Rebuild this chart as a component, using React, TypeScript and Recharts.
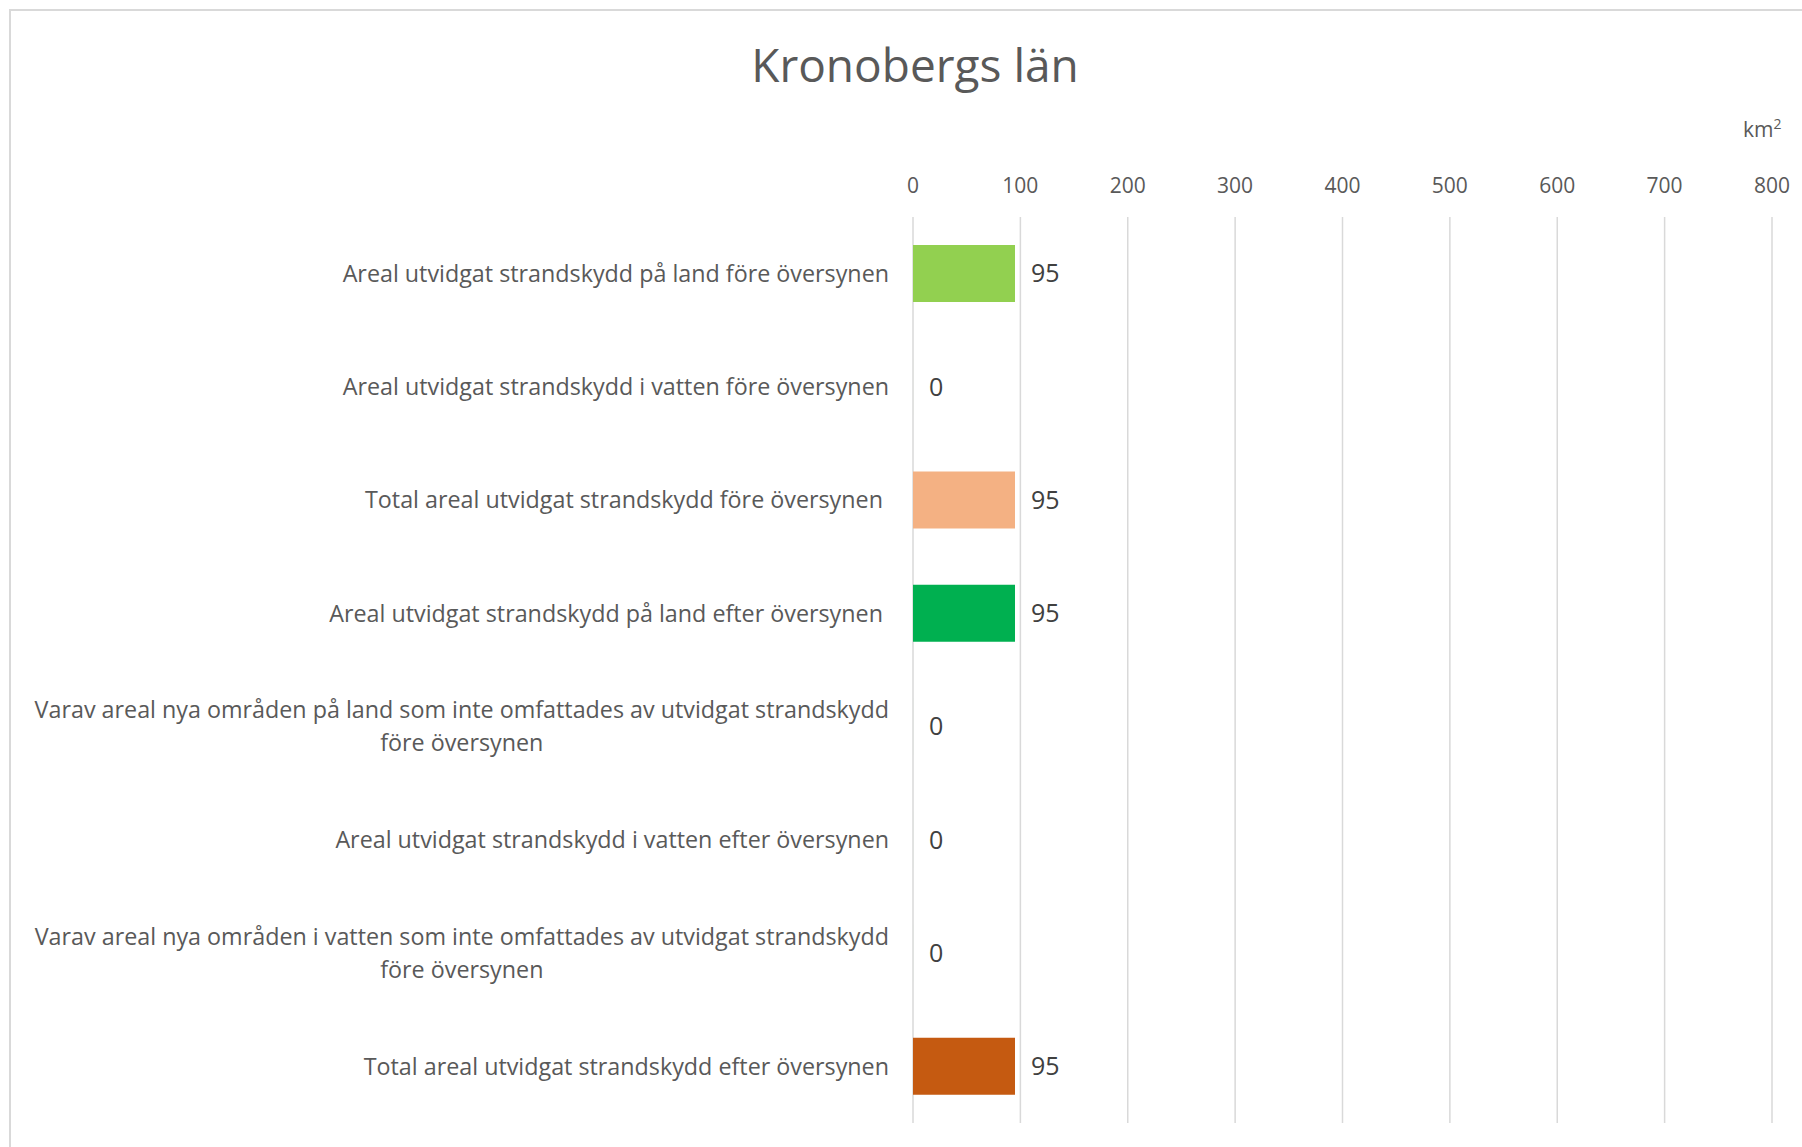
import { BarChart, Bar, XAxis, YAxis, CartesianGrid, Cell, LabelList } from 'recharts'

const KATEGORIER = [
  'Areal utvidgat strandskydd på land före översynen',
  'Areal utvidgat strandskydd i vatten före översynen',
  'Total areal utvidgat strandskydd före översynen ',
  'Areal utvidgat strandskydd på land efter översynen ',
  'Varav areal nya områden på land som inte omfattades av utvidgat strandskydd\nföre översynen',
  'Areal utvidgat strandskydd i vatten efter översynen',
  'Varav areal nya områden i vatten som inte omfattades av utvidgat strandskydd\nföre översynen',
  'Total areal utvidgat strandskydd efter översynen',
]
const VARDEN = [95, 0, 95, 95, 0, 0, 0, 95]
const FARGER = ['#92D050', '#92D050', '#F4B183', '#00B050', '#00B050', '#00B050', '#00B050', '#C55A11']
const TICKS = [0, 100, 200, 300, 400, 500, 600, 700, 800]

const FONT = '"Open Sans", sans-serif'
const TEXT = '#595959'
const LABEL_SIZE = 23.3

const data = KATEGORIER.map((kategori, i) => ({ kategori, varde: VARDEN[i] }))

let ctx: CanvasRenderingContext2D | null = null
function textWidth(s: string): number {
  if (!ctx) ctx = document.createElement('canvas').getContext('2d')
  if (!ctx) return s.length * 11
  ctx.font = `${LABEL_SIZE}px ${FONT}`
  return ctx.measureText(s).width
}

function KategoriTick({ x, y, payload }: any) {
  const lines = String(payload.value).split('\n')
  const right = x - 24
  if (lines.length === 1) {
    return (
      <text x={right} y={y} dy="0.35em" textAnchor="end" fill={TEXT} fontSize={LABEL_SIZE}
        fontFamily={FONT} style={{ whiteSpace: 'pre' }}>
        {lines[0]}
      </text>
    )
  }
  const cx = right - textWidth(lines[0]) / 2
  return (
    <text textAnchor="middle" fill={TEXT} fontSize={LABEL_SIZE} fontFamily={FONT}>
      {lines.map((l, i) => (
        <tspan key={i} x={cx} y={y + (i - (lines.length - 1) / 2) * 33} dy="0.35em">{l}</tspan>
      ))}
    </text>
  )
}

function VardeTick({ x, y, payload }: any) {
  return (
    <text x={x} y={y - 31} dy="0.35em" textAnchor="middle" fill={TEXT} fontSize={21} fontFamily={FONT}>
      {payload.value}
    </text>
  )
}

function VardeEtikett({ x, y, width, height, value }: any) {
  return (
    <text x={x + width + 16} y={y + height / 2} dy="0.35em" textAnchor="start" fill="#404040"
      fontSize={25} fontFamily={FONT}>
      {value}
    </text>
  )
}

export default function App() {
  return (
    <div style={{ position: 'absolute', left: 0, top: 0, width: 1802, height: 1147, overflow: 'hidden', background: '#fff' }}>
      <div style={{
        position: 'absolute', left: 9, top: 9, width: 1850, height: 1200,
        border: '2px solid #d9d9d9', boxSizing: 'border-box',
      }} />
      <div style={{
        position: 'absolute', left: 0, width: 1830, top: 34, textAlign: 'center',
        fontFamily: FONT, fontSize: 46, color: TEXT, lineHeight: '60px',
      }}>
        Kronobergs län
      </div>
      <div style={{
        position: 'absolute', left: 1743, top: 114, fontFamily: FONT, fontSize: 21, color: TEXT,
      }}>
        km<sup style={{ fontSize: 14 }}>2</sup>
      </div>
      <BarChart
        width={1802}
        height={1147}
        data={data}
        layout="vertical"
        margin={{ top: 160, right: 30, bottom: 24, left: 0 }}
        style={{ position: 'absolute', left: 0, top: 0 }}
      >
        <CartesianGrid horizontal={false} stroke="#d9d9d9" strokeWidth={1.5} />
        <XAxis
          type="number"
          orientation="top"
          domain={[0, 800]}
          ticks={TICKS}
          axisLine={false}
          tickLine={false}
          tickSize={0}
          tickMargin={0}
          height={57}
          tick={<VardeTick />}
        />
        <YAxis
          type="category"
          dataKey="kategori"
          width={913}
          axisLine={false}
          tickLine={false}
          tickSize={0}
          tickMargin={0}
          interval={0}
          tick={<KategoriTick />}
        />
        <Bar dataKey="varde" barSize={57} minPointSize={0.01} isAnimationActive={false}>
          {data.map((_, i) => (
            <Cell key={i} fill={FARGER[i]} />
          ))}
          <LabelList dataKey="varde" content={<VardeEtikett />} />
        </Bar>
      </BarChart>
    </div>
  )
}
